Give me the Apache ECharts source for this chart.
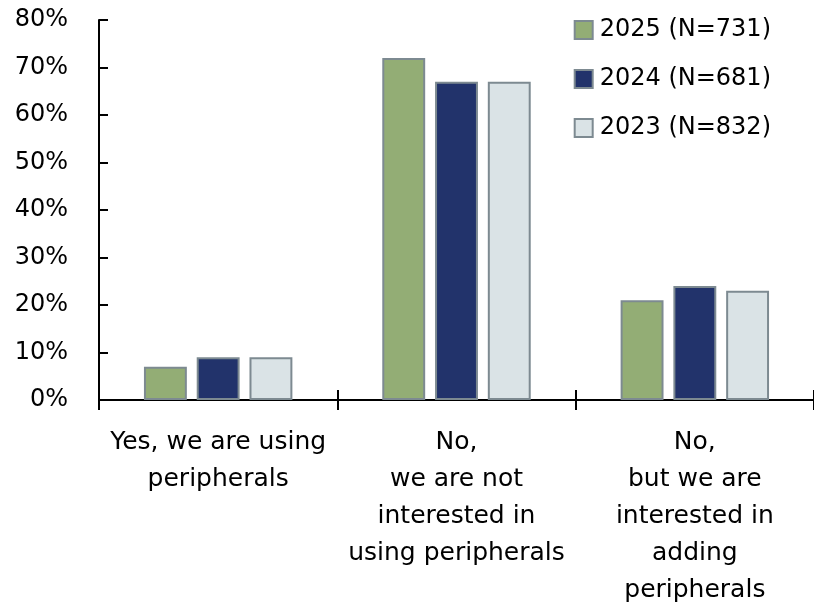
<!DOCTYPE html>
<html>
<head>
<meta charset="utf-8">
<script src="https://cdn.jsdelivr.net/npm/echarts@6/dist/echarts.min.js"></script>
<style>
  html, body { margin: 0; padding: 0; background: #fff; }
  #chart { width: 814px; height: 615px; }
</style>
</head>
<body>
<div id="chart"></div>
<script>
const categories = [
  'Yes, we are using\nperipherals',
  'No,\nwe are not\ninterested in\nusing peripherals',
  'No,\nbut we are\ninterested in\nadding\nperipherals'
];
const seriesNames = ['2025 (N=731)', '2024 (N=681)', '2023 (N=832)'];
const values2025 = [7, 72, 21];
const values2024 = [9, 67, 24];
const values2023 = [9, 67, 23];
const yTicks = [0, 10, 20, 30, 40, 50, 60, 70, 80];

const colors = ['#93ad75', '#22336b', '#dae3e6'];
const borderColor = '#7d8a91';
const fontFamily = '"DejaVu Sans", sans-serif';

const chart = echarts.init(document.getElementById('chart'));

const mkSeries = (name, data, i) => ({
  name,
  type: 'bar',
  data,
  barWidth: '18%',
  barGap: '23%',
  itemStyle: { color: colors[i], borderColor: borderColor, borderWidth: 2 },
  emphasis: { disabled: true }
});

chart.setOption({
  animation: false,
  textStyle: { fontFamily },
  grid: { left: 99, top: 20, width: 717, height: 380 },
  legend: {
    orient: 'vertical',
    right: 38,
    top: 13,
    icon: 'rect',
    itemWidth: 18,
    itemHeight: 18,
    itemGap: 25,
    data: seriesNames,
    textStyle: { fontSize: 24, color: '#000', fontFamily, lineHeight: 24, padding: [0, 0, 0, 2] }
  },
  xAxis: [{
    type: 'category',
    data: categories,
    axisLine: { lineStyle: { color: '#000', width: 2 } },
    axisTick: { show: true, length: 10, lineStyle: { color: '#000', width: 2 } },
    axisLabel: { fontSize: 25, color: '#000', lineHeight: 37, margin: 24, fontFamily, interval: 0 }
  }, {
    type: 'category',
    data: categories,
    position: 'bottom',
    axisLine: { show: false },
    axisTick: { show: true, inside: true, length: 10, lineStyle: { color: '#000', width: 2 } },
    axisLabel: { show: false }
  }],
  yAxis: {
    type: 'value',
    min: yTicks[0],
    max: yTicks[yTicks.length - 1],
    interval: 10,
    axisLine: { show: true, lineStyle: { color: '#000', width: 2 } },
    axisTick: { show: true, inside: true, length: 9, lineStyle: { color: '#000', width: 2 } },
    splitLine: { show: false },
    axisLabel: { formatter: '{value}%', fontSize: 24, color: '#000', margin: 31, fontFamily }
  },
  series: [
    mkSeries(seriesNames[0], values2025, 0),
    mkSeries(seriesNames[1], values2024, 1),
    mkSeries(seriesNames[2], values2023, 2)
  ]
});
</script>
</body>
</html>
